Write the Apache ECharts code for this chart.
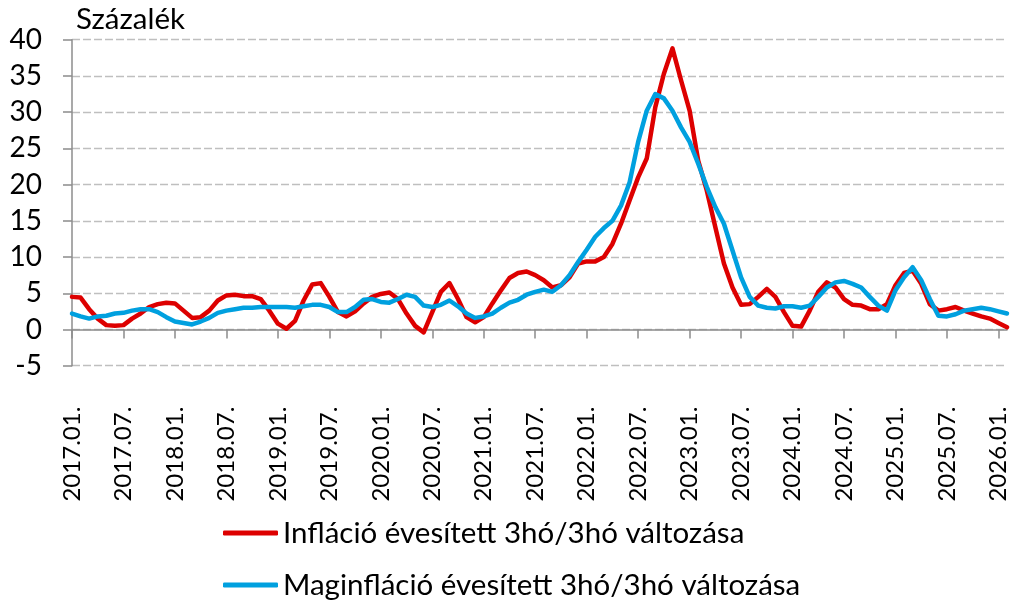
<!DOCTYPE html>
<html>
<head>
<meta charset="utf-8">
<script src="https://cdn.jsdelivr.net/npm/echarts@6/dist/echarts.min.js"></script>
<style>
html,body{margin:0;padding:0;background:#fff;}
#chart{width:1015px;height:603px;}
</style>
</head>
<body>
<div id="chart"></div>
<script>
// Monthly categories 2017.01. – 2026.02.
const startYear = 2017;
const monthCount = 110;
const categories = [];
for (let k = 0; k < monthCount; k++) {
  const y = startYear + Math.floor(k / 12);
  const m = (k % 12) + 1;
  categories.push(y + '.' + (m < 10 ? '0' + m : m) + '.');
}

const seriesNames = [
  'Infláció évesített 3hó/3hó változása',
  'Maginfláció évesített 3hó/3hó változása'
];

const inflation = [
  4.5, 4.4, 2.8, 1.5, 0.6, 0.5, 0.6, 1.5, 2.2, 3.1,
  3.5, 3.7, 3.6, 2.6, 1.6, 1.7, 2.6, 4.0, 4.7, 4.8,
  4.6, 4.6, 4.2, 2.6, 0.8, 0.1, 1.2, 4.0, 6.2, 6.4,
  4.5, 2.4, 1.8, 2.5, 3.6, 4.5, 4.9, 5.1, 4.2, 2.2,
  0.5, -0.4, 2.4, 5.2, 6.4, 4.2, 1.7, 1.0, 1.7, 3.6,
  5.4, 7.1, 7.8, 8.0, 7.5, 6.8, 5.8, 6.1, 7.2, 9.1,
  9.4, 9.4, 10.0, 11.8, 14.6, 17.8, 21.0, 23.6, 30.7, 35.3,
  38.8, 34.4, 30.2, 23.3, 19.2, 14.1, 9.1, 5.8, 3.4, 3.5,
  4.5, 5.6, 4.5, 2.4, 0.5, 0.4, 2.6, 5.2, 6.5, 5.8,
  4.2, 3.4, 3.3, 2.8, 2.8, 3.5, 6.1, 7.8, 8.1, 6.3,
  3.5, 2.6, 2.8, 3.1, 2.6, 2.2, 1.8, 1.5, 0.9, 0.3
];

const coreInflation = [
  2.2, 1.8, 1.5, 1.8, 1.9, 2.2, 2.3, 2.6, 2.8, 2.8,
  2.4, 1.7, 1.1, 0.9, 0.7, 1.1, 1.6, 2.3, 2.6, 2.8,
  3.0, 3.0, 3.1, 3.1, 3.1, 3.1, 3.0, 3.2, 3.4, 3.4,
  3.1, 2.4, 2.4, 3.1, 4.1, 4.2, 3.8, 3.7, 4.2, 4.8,
  4.5, 3.3, 3.1, 3.4, 4.0, 3.2, 2.2, 1.6, 1.8, 2.2,
  3.0, 3.7, 4.1, 4.8, 5.2, 5.5, 5.2, 6.1, 7.5, 9.3,
  11.0, 12.8, 14.0, 15.0, 17.1, 20.3, 25.9, 30.2, 32.5, 31.9,
  30.2, 27.9, 25.9, 22.9, 19.7, 16.9, 14.6, 10.9, 7.2, 4.5,
  3.3, 3.0, 2.9, 3.2, 3.2, 3.0, 3.3, 4.5, 5.8, 6.5,
  6.7, 6.3, 5.8, 4.5, 3.3, 2.6, 5.4, 7.2, 8.6, 6.8,
  4.2, 1.9, 1.8, 2.1, 2.6, 2.8, 3.0, 2.8, 2.5, 2.2
];

const yTicks = [-5, 0, 5, 10, 15, 20, 25, 30, 35, 40];
const yUnit = 'Százalék';

const colors = ['#DD0000', '#00A0DF'];
const fontFam = 'Lato, "Open Sans", sans-serif';
const fs = 28;
const legendFs = 29.5;
const xLabelFs = 24;

function legendFor(idx, top) {
  return {
    orient: 'horizontal',
    left: 223,
    top: top,
    padding: 0,
    icon: 'roundRect',
    itemWidth: 55,
    itemHeight: 5,
    itemGap: 5,
    data: [seriesNames[idx]],
    textStyle: {fontFamily: fontFam, fontSize: legendFs, color: '#000', lineHeight: 32}
  };
}

const chart = echarts.init(document.getElementById('chart'), null, {renderer: 'canvas'});
chart.setOption({
  animation: false,
  backgroundColor: '#ffffff',
  color: colors,
  title: {
    text: yUnit,
    left: 76,
    top: 4,
    padding: 0,
    textStyle: {fontFamily: fontFam, fontSize: legendFs, fontWeight: 'normal', color: '#000'}
  },
  legend: [legendFor(0, 517), legendFor(1, 569)],
  grid: {left: 72, right: 8, top: 39.7, bottom: 603 - 365.7, containLabel: false},
  xAxis: {
    type: 'category',
    data: categories,
    boundaryGap: false,
    axisLine: {onZero: true, lineStyle: {color: '#8c8c8c', width: 1.5}},
    axisTick: {show: true, length: 9, lineStyle: {color: '#8c8c8c', width: 1.5},
      interval: function (i) { return i % 6 === 0; }},
    axisLabel: {
      rotate: 90,
      margin: 41,
      fontFamily: fontFam,
      fontSize: xLabelFs,
      color: '#000',
      interval: function (i) { return i % 6 === 0; }
    },
    splitLine: {show: false}
  },
  yAxis: {
    type: 'value',
    min: yTicks[0],
    max: yTicks[yTicks.length - 1],
    interval: 5,
    axisLine: {show: true, lineStyle: {color: '#8c8c8c', width: 1.5}},
    axisTick: {show: true, inside: false, length: 9, lineStyle: {color: '#8c8c8c', width: 1.5}},
    axisLabel: {margin: 30, fontFamily: fontFam, fontSize: fs, color: '#000'},
    splitLine: {show: true, lineStyle: {color: '#bfbfbf', width: 1.3, type: [8, 3]}}
  },
  series: [
    {
      name: seriesNames[0],
      type: 'line',
      data: inflation,
      symbol: 'none',
      lineStyle: {width: 4.5, color: colors[0], join: 'round', cap: 'round'},
      z: 2
    },
    {
      name: seriesNames[1],
      type: 'line',
      data: coreInflation,
      symbol: 'none',
      lineStyle: {width: 4.5, color: colors[1], join: 'round', cap: 'round'},
      z: 3
    }
  ]
});
</script>
</body>
</html>
